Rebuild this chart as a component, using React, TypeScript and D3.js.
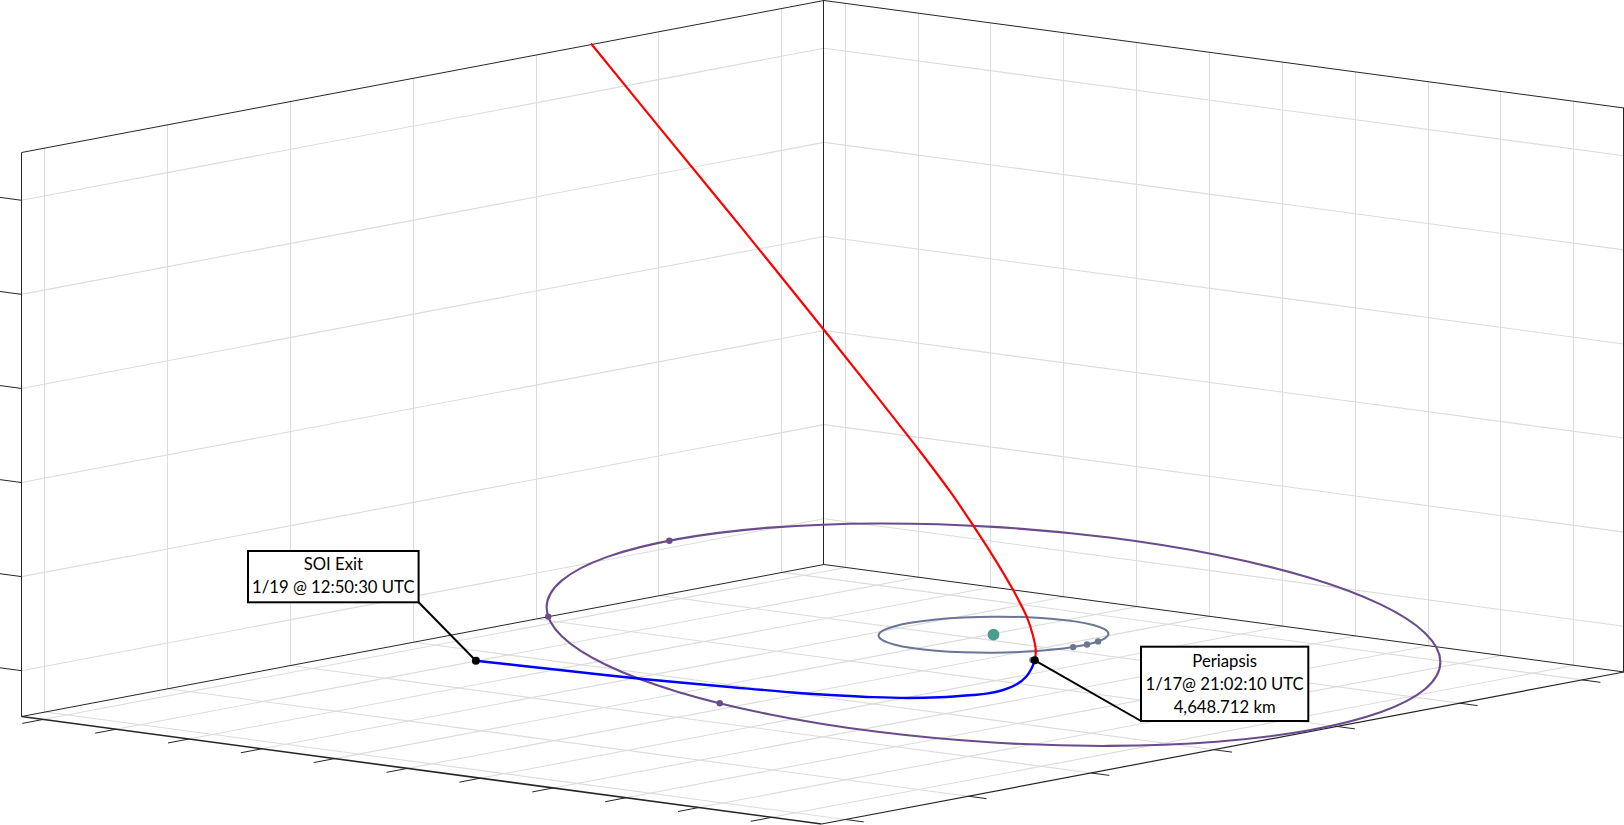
import React from "react";
import * as d3 from "d3";

// Tick positions along the three unlabelled axes
const xTicks = [0, 1, 2, 3, 4, 5, 6];
const yTicks = [0, 1, 2, 3, 4, 5, 6, 7, 8, 9, 10];
const zTicks = [0, 1, 2, 3, 4, 5];
const xDomain = [-0.195, 6.34];
const yDomain = [-0.299, 10.682];
const zDomain = [-0.487, 5.508];

// Outer orbit (z = 0 plane)
const outerX = [4.819, 4.089, 3.352, 2.659, 2.057, 1.588, 1.282, 1.161, 1.234, 1.494, 1.925, 2.497, 3.171, 3.902, 4.638, 5.331, 5.933, 6.402, 6.708, 6.829, 6.756, 6.496, 6.065, 5.493];
const outerY = [10.725, 11.747, 12.375, 12.567, 12.311, 11.623, 10.551, 9.167, 7.566, 5.856, 4.156, 2.579, 1.235, 0.214, -0.415, -0.607, -0.351, 0.337, 1.409, 2.793, 4.395, 6.104, 7.804, 9.381];
const outerMarkX = [5.264, 1.346, 2.945];
const outerMarkY = [-0.608, 6.688, 1.638];

// Inner orbit
const innerX = [4.405, 4.274, 4.124, 3.965, 3.808, 3.664, 3.542, 3.452, 3.398, 3.385, 3.414, 3.482, 3.585, 3.716, 3.866, 4.025, 4.182, 4.326, 4.448, 4.539, 4.592, 4.605, 4.577, 4.508];
const innerY = [6.867, 7.034, 7.13, 7.147, 7.084, 6.946, 6.743, 6.487, 6.197, 5.892, 5.593, 5.321, 5.093, 4.926, 4.83, 4.813, 4.876, 5.014, 5.217, 5.473, 5.763, 6.068, 6.367, 6.64];
const innerMarkX = [3.952, 4.066, 4.18, 3.49];
const innerMarkY = [7.145, 7.145, 7.104, 7.366];

// Central body
const bodyX = 3.995;
const bodyY = 5.98;

// Outbound leg
const blueX = [1.592, 1.642, 1.696, 1.786, 1.863, 1.946, 2.016, 2.111, 2.239, 2.408, 2.488, 2.637, 2.82, 3.055, 3.287, 3.491];
const blueY = [2.926, 3.995, 5.044, 6.043, 6.819, 7.324, 7.66, 7.968, 8.202, 8.369, 8.424, 8.402, 8.275, 8.016, 7.699, 7.397];

// Inbound leg
const redX = [3.491, 3.494, 3.484, 3.464, 3.417, 3.349, 3.282, 3.204, 3.097, 2.962, 2.778, 2.494, 2.224, 1.991];
const redY = [7.397, 7.405, 7.381, 7.333, 7.22, 7.06, 6.902, 6.715, 6.46, 6.139, 5.703, 5.029, 4.387, 3.833];
const redZ = [0, 0.11, 0.269, 0.461, 0.752, 1.11, 1.435, 1.797, 2.246, 2.786, 3.514, 4.62, 5.657, 6.556];

const soiLines = ["SOI Exit", "1/19 @ 12:50:30 UTC"];
const periLines = ["Periapsis", "1/17@ 21:02:10 UTC", "4,648.712 km"];

const xS = d3.scaleLinear().domain(xDomain).range([0, 1]);
const yS = d3.scaleLinear().domain(yDomain).range([0, 1]);
const zS = d3.scaleLinear().domain(zDomain).range([0, 564]);

const project = (x: number, y: number, z: number): [number, number] => {
  const t = xS(x);
  const u = yS(y);
  return [21.5 + t * 802.5 + u * 800, 716.5 - t * 152 + u * 107.5 - zS(z)];
};

const [x0, x1] = xDomain;
const [y0, y1] = yDomain;
const [z0, z1] = zDomain;

const GRID = "#dcdcdc";
const AXIS = "#262626";
const PURPLE = "#6a4c8c";
const SLATE = "#6b7596";
const FONT = "Lato, Carlito, sans-serif";

const seg = (a: [number, number], b: [number, number]) => `M${a[0]},${a[1]}L${b[0]},${b[1]}`;
const snap = (v: number) => Math.floor(v - 0.5) + 0.5;
const vseg = (x: number, y: number) => {
  const a = project(x, y, z0);
  const b = project(x, y, z1);
  return `M${snap(a[0])},${a[1]}L${snap(a[0])},${b[1]}`;
};

const open = d3.line<[number, number]>().curve(d3.curveCatmullRom.alpha(0.5));
const closed = d3.line<[number, number]>().curve(d3.curveCatmullRomClosed.alpha(0));

const pts = (xs: number[], ys: number[], zs?: number[]) =>
  xs.map((x, i) => project(x, ys[i], zs ? zs[i] : 0));

function Callout({ box, lines, from, to, baseY }: { box: number[]; lines: string[]; from: [number, number]; to: [number, number]; baseY: number[] }) {
  return (
    <g>
      <path d={seg(from, to)} stroke="#000" strokeWidth={2} fill="none" />
      <rect x={box[0]} y={box[1]} width={box[2]} height={box[3]} fill="#fff" stroke="#000" strokeWidth={2} />
      {lines.map((l, i) => (
        <text key={i} x={box[0] + box[2] / 2} y={baseY[i]} textAnchor="middle" fontFamily={FONT} fontSize={16.7} fill="#000">
          {l}
        </text>
      ))}
      <circle cx={to[0]} cy={to[1]} r={4} fill="#000" />
    </g>
  );
}

export default function App() {
  const soiEnd = project(blueX[0], blueY[0], 0);
  const peri = project(blueX[blueX.length - 1], blueY[blueY.length - 1], 0);
  const body = project(bodyX, bodyY, 0);

  const gridPaths: string[] = [];
  xTicks.forEach((x) => {
    gridPaths.push(vseg(x, y0));
    gridPaths.push(seg(project(x, y0, z0), project(x, y1, z0)));
  });
  yTicks.forEach((y) => {
    gridPaths.push(vseg(x1, y));
    gridPaths.push(seg(project(x0, y, z0), project(x1, y, z0)));
  });
  zTicks.forEach((z) => {
    gridPaths.push(seg(project(x0, y0, z), project(x1, y0, z)));
    gridPaths.push(seg(project(x1, y0, z), project(x1, y1, z)));
  });

  const thin: string[] = [
    seg(project(x0, y0, z1), project(x1, y0, z1)),
    seg(project(x1, y0, z1), project(x1, y1, z1)),
    vseg(x0, y0),
    vseg(x1, y0),
    vseg(x1, y1),
    seg(project(x0, y0, z0), project(x1, y0, z0)),
    seg(project(x1, y0, z0), project(x1, y1, z0)),
  ];
  xTicks.forEach((x) => thin.push(seg(project(x, y1, z0), project(x, y1 + 0.25, z0))));
  yTicks.forEach((y) => thin.push(seg(project(x0, y, z0), project(x0 - 0.171, y, z0))));
  zTicks.forEach((z) => thin.push(seg(project(x0, y0, z), project(x0, y0 - 0.3, z))));

  return (
    <svg
      width={1624}
      height={825}
      viewBox="0 0 1624 825"
      style={{ position: "absolute", left: 0, top: 0, display: "block", background: "#fff" }}
    >
      <g fill="none" stroke={GRID} strokeWidth={1.1}>
        {gridPaths.map((d, i) => (
          <path key={i} d={d} />
        ))}
      </g>
      <g fill="none" stroke={AXIS} strokeWidth={1}>
        {thin.map((d, i) => (
          <path key={i} d={d} />
        ))}
        <path d={seg(project(x0, y0, z0), project(x0, y1, z0))} strokeWidth={1.6} />
        <path d={seg(project(x0, y1, z0), project(x1, y1, z0))} strokeWidth={1.2} />
      </g>

      <path d={closed(pts(outerX, outerY)) as string} fill="none" stroke={PURPLE} strokeWidth={2.1} />
      {outerMarkX.map((x, i) => {
        const p = project(x, outerMarkY[i], 0);
        return <circle key={i} cx={p[0]} cy={p[1]} r={3.2} fill={PURPLE} />;
      })}
      <path d={closed(pts(innerX, innerY)) as string} fill="none" stroke={SLATE} strokeWidth={2} />
      {innerMarkX.map((x, i) => {
        const p = project(x, innerMarkY[i], 0);
        return <circle key={i} cx={p[0]} cy={p[1]} r={3.2} fill={SLATE} />;
      })}
      <circle cx={body[0]} cy={body[1]} r={5.9} fill="#4a9d8f" />

      <path d={open(pts(redX, redY, redZ)) as string} fill="none" stroke="#ff0000" strokeWidth={2.2} />
      <path d={open(pts(blueX, blueY)) as string} fill="none" stroke="#0000ff" strokeWidth={2.4} />

      <Callout box={[248, 551, 170.6, 51.3]} lines={soiLines} from={[418.6, 602.3]} to={soiEnd} baseY={[570, 593]} />
      <Callout box={[1141, 646.7, 167.3, 74.3]} lines={periLines} from={[1141, 721]} to={peri} baseY={[667, 690, 713]} />
    </svg>
  );
}
